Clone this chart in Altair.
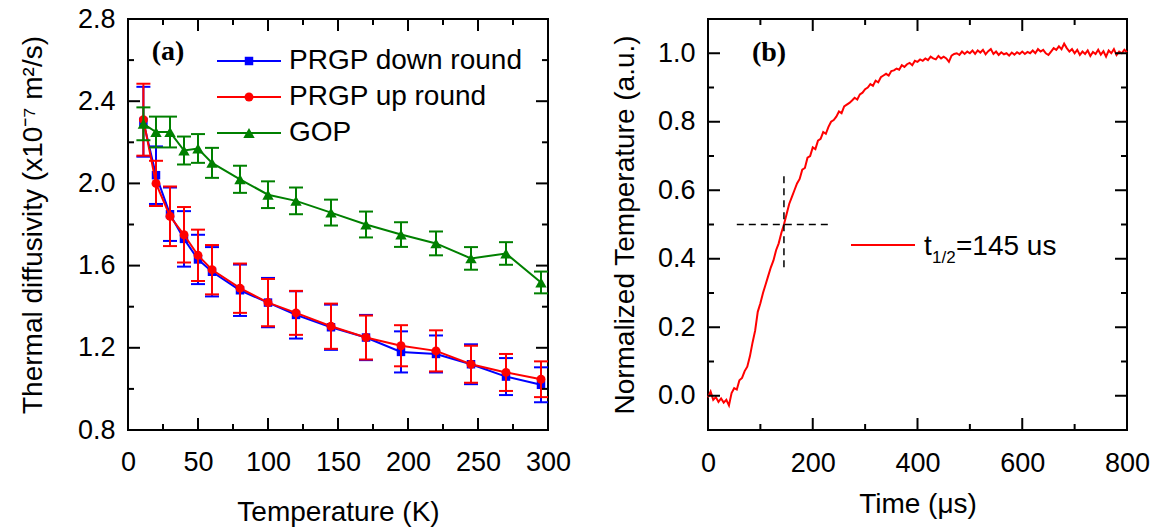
import altair as alt
import pandas as pd

# ---------------- data: panel (a) ----------------
temperature = [11, 20, 30, 40, 50, 60, 80, 100, 120, 145, 170, 195, 220, 245, 270, 295]
down_round = [2.30, 2.04, 1.85, 1.73, 1.63, 1.57, 1.48, 1.42, 1.36, 1.30, 1.25, 1.18, 1.17, 1.12, 1.06, 1.02]
down_err = [0.17, 0.14, 0.13, 0.135, 0.12, 0.12, 0.125, 0.12, 0.115, 0.11, 0.11, 0.10, 0.09, 0.097, 0.09, 0.085]
up_round = [2.31, 2.00, 1.84, 1.75, 1.65, 1.58, 1.49, 1.42, 1.37, 1.305, 1.25, 1.21, 1.185, 1.12, 1.08, 1.047]
up_err = [0.175, 0.11, 0.145, 0.135, 0.125, 0.12, 0.12, 0.115, 0.107, 0.11, 0.107, 0.10, 0.10, 0.09, 0.09, 0.087]
gop = [2.29, 2.25, 2.25, 2.16, 2.17, 2.10, 2.02, 1.945, 1.915, 1.858, 1.80, 1.751, 1.708, 1.635, 1.659, 1.518]
gop_err = [0.08, 0.075, 0.075, 0.068, 0.07, 0.073, 0.066, 0.065, 0.065, 0.063, 0.063, 0.06, 0.058, 0.055, 0.055, 0.053]
series_names = ["PRGP down round", "PRGP up round", "GOP"]

a_x_major = [0, 50, 100, 150, 200, 250, 300]
a_x_minor = [25, 75, 125, 175, 225, 275]
a_y_major = [0.8, 1.2, 1.6, 2.0, 2.4, 2.8]
a_y_minor = [1.0, 1.4, 1.8, 2.2, 2.6]

# ---------------- data: panel (b) ----------------
time_us = [
    0, 5, 10, 15, 20, 25, 30, 35, 40, 45,
    50, 55, 60, 65, 70, 75, 80, 85, 90, 95,
    100, 105, 110, 115, 120, 125, 130, 135, 140, 145,
    150, 155, 160, 165, 170, 175, 180, 185, 190, 195,
    200, 205, 210, 215, 220, 225, 230, 235, 240, 245,
    250, 255, 260, 265, 270, 275, 280, 285, 290, 295,
    300, 305, 310, 315, 320, 325, 330, 335, 340, 345,
    350, 355, 360, 365, 370, 375, 380, 385, 390, 395,
    400, 405, 410, 415, 420, 425, 430, 435, 440, 445,
    450, 455, 460, 465, 470, 475, 480, 485, 490, 495,
    500, 505, 510, 515, 520, 525, 530, 535, 540, 545,
    550, 555, 560, 565, 570, 575, 580, 585, 590, 595,
    600, 605, 610, 615, 620, 625, 630, 635, 640, 645,
    650, 655, 660, 665, 670, 675, 680, 685, 690, 695,
    700, 705, 710, 715, 720, 725, 730, 735, 740, 745,
    750, 755, 760, 765, 770, 775, 780, 785, 790, 795,
    800,
]
norm_temp = [
    -0.005, 0.012, -0.012, -0.004, -0.018, -0.008, -0.020, -0.012, -0.028, 0.008,
    0.022, 0.018, 0.045, 0.052, 0.072, 0.085, 0.115, 0.155, 0.190, 0.245,
    0.270, 0.300, 0.325, 0.350, 0.375, 0.395, 0.425, 0.445, 0.475, 0.500,
    0.530, 0.560, 0.580, 0.600, 0.620, 0.633, 0.660, 0.665, 0.695, 0.700,
    0.725, 0.720, 0.745, 0.750, 0.770, 0.765, 0.785, 0.800, 0.805, 0.815,
    0.830, 0.825, 0.845, 0.850, 0.855, 0.862, 0.870, 0.865, 0.880, 0.885,
    0.895, 0.900, 0.910, 0.905, 0.920, 0.915, 0.930, 0.935, 0.940, 0.935,
    0.948, 0.950, 0.955, 0.952, 0.965, 0.960, 0.968, 0.972, 0.965, 0.978,
    0.975, 0.982, 0.978, 0.985, 0.980, 0.990, 0.985, 0.982, 0.992, 0.985,
    0.990, 0.985, 0.975, 0.993, 0.998, 1.000, 0.995, 1.005, 0.998, 1.005,
    1.000, 1.008, 0.998, 1.008, 1.002, 1.010, 0.997, 1.006, 1.012, 0.998,
    1.005, 0.995, 1.003, 0.997, 1.000, 0.993, 1.002, 0.996, 1.003, 0.998,
    1.005, 0.998, 1.004, 1.000, 1.008, 1.000, 1.012, 1.005, 1.010, 1.000,
    0.995, 1.005, 1.015, 1.010, 1.020, 1.012, 1.028, 1.015, 1.005, 1.012,
    1.000, 1.010, 0.995, 1.005, 0.998, 1.008, 0.992, 1.004, 0.998, 1.010,
    0.996, 1.006, 0.990, 1.008, 1.000, 1.012, 0.995, 1.005, 1.000, 1.010,
    1.003,
]
t_half = 145
half_h_span = [55, 230]
half_v_span = [0.375, 0.645]
b_legend = ["t", "1/2", "=145 us"]

b_x_major = [0, 200, 400, 600, 800]
b_x_minor = [100, 300, 500, 700]
b_y_major = [0.0, 0.2, 0.4, 0.6, 0.8, 1.0]
b_y_minor = [0.1, 0.3, 0.5, 0.7, 0.9]

SANS = "Liberation Sans"
SERIF = "Liberation Serif"
W_A, W_B, H = 420, 419, 411
MAJ, MIN = 12, 6


def tick_layers(xmaj, xmin, ymaj, ymin, X, Y, W):
    layers = []
    for vals, L in ((xmaj, MAJ), (xmin, MIN)):
        c = alt.Chart(pd.DataFrame({"t": vals})).mark_rule(color="black", strokeWidth=2)
        layers.append(c.encode(x=X("t"), y=alt.value(H), y2=alt.value(H - L)))
        layers.append(c.encode(x=X("t"), y=alt.value(0), y2=alt.value(L)))
    for vals, L in ((ymaj, MAJ), (ymin, MIN)):
        c = alt.Chart(pd.DataFrame({"t": vals})).mark_rule(color="black", strokeWidth=2)
        layers.append(c.encode(y=Y("t"), x=alt.value(0), x2=alt.value(L)))
        layers.append(c.encode(y=Y("t"), x=alt.value(W), x2=alt.value(W - L)))
    return layers


# ---------------- panel (a) ----------------
xs_a = alt.Scale(domain=[0, 300], nice=False, zero=False)
ys_a = alt.Scale(domain=[0.8, 2.8], nice=False, zero=False)
xa_axis = alt.Axis(values=a_x_major, format="d", labelPadding=19, titlePadding=23, labelFlush=False)
ya_axis = alt.Axis(values=a_y_major, format=".1f", labelPadding=13, titlePadding=30, labelFlush=False)
XA_T = "Temperature (K)"
YA_T = "Thermal diffusivity (x10\u207b\u2077 m\u00b2/s)"


def XA(f):
    return alt.X(f"{f}:Q", scale=xs_a, axis=xa_axis, title=XA_T)


def YA(f):
    return alt.Y(f"{f}:Q", scale=ys_a, axis=ya_axis, title=YA_T)


def series(vals, errs, color, shape, size):
    df = pd.DataFrame({
        "T": temperature,
        "v": vals,
        "lo": [v - e for v, e in zip(vals, errs)],
        "hi": [v + e for v, e in zip(vals, errs)],
    })
    base = alt.Chart(df)
    return [
        base.mark_rule(color=color, strokeWidth=2).encode(x=XA("T"), y=YA("lo"), y2="hi:Q"),
        base.mark_tick(color=color, orient="horizontal", size=14, thickness=2, opacity=1).encode(x=XA("T"), y=YA("lo")),
        base.mark_tick(color=color, orient="horizontal", size=14, thickness=2, opacity=1).encode(x=XA("T"), y=YA("hi")),
        base.mark_line(color=color, strokeWidth=2).encode(x=XA("T"), y=YA("v")),
        base.mark_point(shape=shape, filled=True, size=size, color=color, opacity=1).encode(x=XA("T"), y=YA("v")),
    ]


colors = ["#0000ff", "#ff0000", "#008000"]
shapes = ["square", "circle", "triangle-up"]
sizes = [72, 80, 130]

a_layers = []
a_layers += series(down_round, down_err, colors[0], shapes[0], sizes[0])
a_layers += series(up_round, up_err, colors[1], shapes[1], sizes[1])
a_layers += series(gop, gop_err, colors[2], shapes[2], sizes[2])
a_layers += tick_layers(a_x_major, a_x_minor, a_y_major, a_y_minor, XA, YA, W_A)

leg_y = [42, 78, 114]
for name, col, shp, sz, yy in zip(series_names, colors, shapes, sizes, leg_y):
    dummy = alt.Chart(pd.DataFrame({"k": [0]}))
    a_layers.append(dummy.mark_rule(color=col, strokeWidth=2).encode(
        x=alt.value(89), x2=alt.value(153), y=alt.value(yy)))
    a_layers.append(dummy.mark_point(shape=shp, filled=True, size=sz, color=col, opacity=1).encode(
        x=alt.value(121), y=alt.value(yy)))
    a_layers.append(dummy.mark_text(align="left", baseline="middle", font=SANS, fontSize=28, color="black").encode(
        x=alt.value(161), y=alt.value(yy), text=alt.value(name)))

a_layers.append(alt.Chart(pd.DataFrame({"k": [0]})).mark_text(
    font=SERIF, fontWeight="bold", fontSize=28, color="black", baseline="middle").encode(
    x=alt.value(40), y=alt.value(33), text=alt.value("(a)")))

panel_a = alt.layer(*a_layers).properties(width=W_A, height=H)

# ---------------- panel (b) ----------------
xs_b = alt.Scale(domain=[0, 800], nice=False, zero=False)
ys_b = alt.Scale(domain=[-0.1, 1.1], nice=False, zero=False)
xb_axis = alt.Axis(values=b_x_major, format="d", labelPadding=20, titlePadding=14, labelFlush=False)
yb_axis = alt.Axis(values=b_y_major, format=".1f", labelPadding=13, titlePadding=18, labelFlush=False)
XB_T = "Time (\u03bcs)"
YB_T = "Normalized Temperature (a.u.)"


def XB(f):
    return alt.X(f"{f}:Q", scale=xs_b, axis=xb_axis, title=XB_T)


def YB(f):
    return alt.Y(f"{f}:Q", scale=ys_b, axis=yb_axis, title=YB_T)


curve_df = pd.DataFrame({"t": time_us, "v": norm_temp})
b_layers = [
    alt.Chart(curve_df).mark_line(color="#ff0000", strokeWidth=2).encode(x=XB("t"), y=YB("v")),
    alt.Chart(pd.DataFrame({"x": [half_h_span[0]], "x2": [half_h_span[1]], "y": [0.5]})).mark_rule(
        color="black", strokeWidth=1.5, strokeDash=[7, 5]).encode(x=XB("x"), x2="x2:Q", y=YB("y")),
    alt.Chart(pd.DataFrame({"x": [t_half], "y": [half_v_span[0]], "y2": [half_v_span[1]]})).mark_rule(
        color="black", strokeWidth=1.5, strokeDash=[7, 5]).encode(x=XB("x"), y=YB("y"), y2="y2:Q"),
]
b_layers += tick_layers(b_x_major, b_x_minor, b_y_major, b_y_minor, XB, YB, W_B)

dummy = alt.Chart(pd.DataFrame({"k": [0]}))
b_layers.append(dummy.mark_rule(color="#ff0000", strokeWidth=2).encode(
    x=alt.value(143), x2=alt.value(207), y=alt.value(226)))
b_layers.append(dummy.mark_text(align="left", baseline="alphabetic", font=SANS, fontSize=28, color="black").encode(
    x=alt.value(216), y=alt.value(236), text=alt.value(b_legend[0])))
b_layers.append(dummy.mark_text(align="left", baseline="alphabetic", font=SANS, fontSize=17, color="black").encode(
    x=alt.value(224), y=alt.value(244), text=alt.value(b_legend[1])))
b_layers.append(dummy.mark_text(align="left", baseline="alphabetic", font=SANS, fontSize=28, color="black").encode(
    x=alt.value(248), y=alt.value(236), text=alt.value(b_legend[2])))
b_layers.append(dummy.mark_text(font=SERIF, fontWeight="bold", fontSize=28, color="black", baseline="middle").encode(
    x=alt.value(61), y=alt.value(34), text=alt.value("(b)")))

panel_b = alt.layer(*b_layers).properties(width=W_B, height=H)

chart = alt.hconcat(panel_a, panel_b, spacing=160, bounds="flush").properties(
    padding={"left": 18, "top": 4, "right": 5, "bottom": 5},
    background="white",
).configure_view(
    stroke="black", strokeWidth=2
).configure_axis(
    domain=False, ticks=False, grid=False,
    labelFont=SANS, labelFontSize=27, labelColor="black",
    titleFont=SANS, titleFontSize=28, titleFontWeight="normal", titleColor="black",
)

chart.save("out.html", embed_options={"renderer": "svg", "actions": False})
